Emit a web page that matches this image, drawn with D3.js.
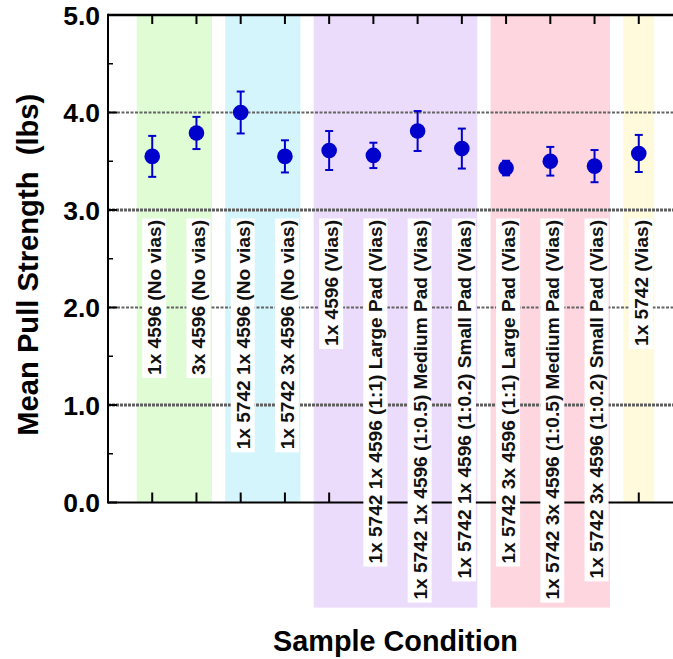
<!DOCTYPE html>
<html>
<head>
<meta charset="utf-8">
<script src="https://cdn.jsdelivr.net/npm/d3@7"></script>
<style>
  html, body { margin: 0; padding: 0; background: #fff; }
  svg { display: block; font-family: "Liberation Sans", Arial, Helvetica, sans-serif; }
</style>
</head>
<body>
<svg id="chart" width="673" height="659"></svg>
<script>
// Sample conditions, in plotting order
const categories = [
  "1x 4596 (No vias)",
  "3x 4596 (No vias)",
  "1x 5742 1x 4596 (No vias)",
  "1x 5742 3x 4596 (No vias)",
  "1x 4596 (Vias)",
  "1x 5742 1x 4596 (1:1) Large Pad (Vias)",
  "1x 5742 1x 4596 (1:0.5) Medium Pad (Vias)",
  "1x 5742 1x 4596 (1:0.2) Small Pad (Vias)",
  "1x 5742 3x 4596 (1:1) Large Pad (Vias)",
  "1x 5742 3x 4596 (1:0.5) Medium Pad (Vias)",
  "1x 5742 3x 4596 (1:0.2) Small Pad (Vias)",
  "1x 5742 (Vias)"
];

// Mean pull strength (lbs) and its error (+/-)
const meanStrength = [3.55, 3.79, 4.00, 3.55, 3.61, 3.56, 3.81, 3.63, 3.43, 3.50, 3.45, 3.58];
const errStrength  = [0.21, 0.165, 0.215, 0.165, 0.20, 0.13, 0.205, 0.205, 0.075, 0.147, 0.165, 0.19];

// Condition groups (first and last category index) and their shading
const groupFirst = [0, 2, 4, 8, 11];
const groupLast  = [1, 3, 7, 10, 11];
const groupColors = ["#dffcd4", "#d5f5fc", "#ecdcfc", "#fdd6df", "#fffadc"];

// Y axis ticks
const yMajorTicks = [0, 1, 2, 3, 4, 5];
const yMinorTicks = [0.5, 1.5, 2.5, 3.5, 4.5];
const yGridValues = [1, 2, 3, 4];

const svg = d3.select("#chart");

const plotLeft = 108, plotRight = 683, plotTop = 15, plotBottom = 502.5;
const x = d3.scaleLinear().domain([-1, 12]).range([plotLeft, plotRight]);
const y = d3.scaleLinear().domain([0, 5]).range([plotBottom, plotTop]);

const bandPad = 0.35;
const labelTop = 220;
const labelFont = 19.1;

const gBands = svg.append("g");
const gGrid = svg.append("g");
const gAxes = svg.append("g");
const gLabels = svg.append("g");
const gMarks = svg.append("g");

// Gridlines
gGrid.selectAll("line")
  .data(yGridValues)
  .join("line")
  .attr("x1", plotLeft).attr("x2", plotRight)
  .attr("y1", d => y(d)).attr("y2", d => y(d))
  .attr("stroke", d => d % 2 ? "#5e5e5e" : "#646464")
  .attr("stroke-width", d => d % 2 ? 3 : 2)
  .attr("stroke-dasharray", d => d % 2 ? "3,1" : "3,1.5");

// Category labels with white boxes
const labelG = gLabels.selectAll("g")
  .data(categories)
  .join("g")
  .attr("transform", (d, i) => `translate(${x(i) + 2},${labelTop}) rotate(-90)`);

labelG.append("rect").attr("fill", "#fff");
labelG.append("text")
  .attr("text-anchor", "end")
  .attr("dy", "0.36em")
  .attr("font-size", labelFont)
  .attr("font-weight", "bold")
  .attr("fill", "#111")
  .text(d => d);

const labelLen = [];
labelG.each(function (d, i) {
  const t = d3.select(this).select("text");
  const len = t.node().getComputedTextLength();
  labelLen[i] = len;
  d3.select(this).select("rect")
    .attr("x", -len - 3).attr("y", -12)
    .attr("width", len + 4.5).attr("height", 24);
});

// Shaded group bands, extended down to cover their labels when needed
gBands.selectAll("rect")
  .data(groupFirst.map((f, k) => ({ f, l: groupLast[k], c: groupColors[k] })))
  .join("rect")
  .attr("x", d => x(d.f - bandPad))
  .attr("width", d => x(d.l + bandPad) - x(d.f - bandPad))
  .attr("y", plotTop)
  .attr("height", d => {
    const maxLen = d3.max(d3.range(d.f, d.l + 1), i => labelLen[i]);
    const labelBottom = labelTop + maxLen + 3 + 5;
    return Math.max(plotBottom, labelBottom) - plotTop;
  })
  .attr("fill", d => d.c);

// Axes frame
gAxes.append("line").attr("x1", plotLeft).attr("x2", plotRight).attr("y1", plotTop).attr("y2", plotTop)
  .attr("stroke", "#000").attr("stroke-width", 2.5);
gAxes.append("line").attr("x1", plotLeft).attr("x2", plotRight).attr("y1", plotBottom).attr("y2", plotBottom)
  .attr("stroke", "#000").attr("stroke-width", 2);
gAxes.append("line").attr("x1", plotLeft).attr("x2", plotLeft).attr("y1", plotTop - 1.2).attr("y2", plotBottom + 1)
  .attr("stroke", "#000").attr("stroke-width", 2);

// Category ticks on top and bottom edges
gAxes.selectAll(".xt-top")
  .data(categories)
  .join("line").attr("class", "xt-top")
  .attr("x1", (d, i) => x(i)).attr("x2", (d, i) => x(i))
  .attr("y1", plotTop).attr("y2", plotTop + 9)
  .attr("stroke", "#000").attr("stroke-width", 2);
gAxes.selectAll(".xt-bot")
  .data(categories)
  .join("line").attr("class", "xt-bot")
  .attr("x1", (d, i) => x(i)).attr("x2", (d, i) => x(i))
  .attr("y1", plotBottom).attr("y2", plotBottom - 10)
  .attr("stroke", "#000").attr("stroke-width", 2);

// Y ticks
gAxes.selectAll(".ymin")
  .data(yMinorTicks)
  .join("line").attr("class", "ymin")
  .attr("x1", plotLeft).attr("x2", plotLeft + 5)
  .attr("y1", d => y(d)).attr("y2", d => y(d))
  .attr("stroke", "#000").attr("stroke-width", 1.5);
gAxes.selectAll(".ymaj")
  .data(yMajorTicks)
  .join("line").attr("class", "ymaj")
  .attr("x1", plotLeft).attr("x2", plotLeft + 9)
  .attr("y1", d => y(d)).attr("y2", d => y(d))
  .attr("stroke", "#000").attr("stroke-width", 2);

gAxes.selectAll(".ylab")
  .data(yMajorTicks)
  .join("text").attr("class", "ylab")
  .attr("x", plotLeft - 8)
  .attr("y", d => y(d))
  .attr("dy", "0.37em")
  .attr("text-anchor", "end")
  .attr("font-size", 26.5)
  .attr("font-weight", "bold")
  .text(d3.format(".1f"));

// Axis titles
svg.append("text")
  .attr("transform", `translate(27,${(plotTop + plotBottom) / 2 + 6}) rotate(-90)`)
  .attr("text-anchor", "middle")
  .attr("dy", "0.36em")
  .attr("font-size", 29.2)
  .attr("font-weight", "bold")
  .style("white-space", "pre")
  .text("Mean Pull Strength  (lbs)");

svg.append("text")
  .attr("x", (plotLeft + plotRight) / 2)
  .attr("y", 651)
  .attr("text-anchor", "middle")
  .attr("font-size", 28.8)
  .attr("font-weight", "bold")
  .text("Sample Condition");

// Error bars and mean markers
const blue = "#0000cc";
const capHalf = 4;
const eb = gMarks.selectAll(".eb")
  .data(meanStrength)
  .join("g").attr("class", "eb");
eb.append("line")
  .attr("x1", (d, i) => x(i)).attr("x2", (d, i) => x(i))
  .attr("y1", (d, i) => y(d + errStrength[i])).attr("y2", (d, i) => y(d - errStrength[i]))
  .attr("stroke", blue).attr("stroke-width", 2);
eb.append("line")
  .attr("x1", (d, i) => x(i) - capHalf).attr("x2", (d, i) => x(i) + capHalf)
  .attr("y1", (d, i) => y(d + errStrength[i])).attr("y2", (d, i) => y(d + errStrength[i]))
  .attr("stroke", blue).attr("stroke-width", 2);
eb.append("line")
  .attr("x1", (d, i) => x(i) - capHalf).attr("x2", (d, i) => x(i) + capHalf)
  .attr("y1", (d, i) => y(d - errStrength[i])).attr("y2", (d, i) => y(d - errStrength[i]))
  .attr("stroke", blue).attr("stroke-width", 2);
eb.append("circle")
  .attr("cx", (d, i) => x(i))
  .attr("cy", d => y(d))
  .attr("r", 7.8)
  .attr("fill", blue);
</script>
</body>
</html>
